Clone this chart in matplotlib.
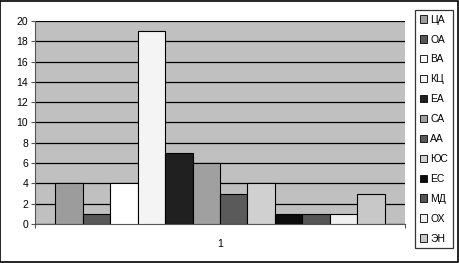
import matplotlib
matplotlib.use("Agg")
import matplotlib.pyplot as plt
from matplotlib.patches import Rectangle, Patch

labels = ["ЦА", "ОА", "ВА", "КЦ", "ЕА", "СА", "АА", "ЮС", "ЕС", "МД", "ОХ", "ЭН"]
values = [4, 1, 4, 19, 7, 6, 3, 4, 1, 1, 1, 3]
colors = ["#9c9c9c", "#585858", "#ffffff", "#f4f4f4", "#202020", "#a0a0a0",
          "#5a5a5a", "#d0d0d0", "#0c0c0c", "#555555", "#f0f0f0", "#c8c8c8"]
yticks = list(range(0, 21, 2))
category = "1"

plt.rcParams["font.family"] = ["Liberation Sans", "DejaVu Sans"]

fig = plt.figure(figsize=(4.59, 2.63), dpi=100)
fig.patch.set_facecolor("white")
fig.patches.append(Rectangle((0.001, 0.002), 0.997, 0.995, transform=fig.transFigure,
                             fill=False, edgecolor="black", linewidth=1.2))

ax = fig.add_axes([35 / 459, 39 / 263, 370 / 459, 203 / 263])
ax.set_facecolor("#c0c0c0")

for i, (v, c) in enumerate(zip(values, colors)):
    ax.bar(i, v, width=1, align="edge", color=c, edgecolor="black", linewidth=0.8, zorder=3)

ax.set_xlim(-0.73, len(values) + 0.73)
ax.set_ylim(0, 20)
ax.set_yticks(yticks)
ax.tick_params(axis="y", labelsize=7.5, length=3, width=0.8, pad=2, color="#555555")
ax.yaxis.grid(True, color="black", linewidth=0.9, zorder=1)
ax.set_axisbelow(True)

ax.set_xticks([-0.73, len(values) + 0.73])
ax.set_xticklabels(["", ""])
ax.tick_params(axis="x", length=3, width=0.8, color="#555555")
ax.text(len(values) / 2, -2.0, category, ha="center", va="center", fontsize=7.5)

for s in ["top", "right"]:
    ax.spines[s].set_visible(False)
ax.spines["left"].set_color("#555555")
ax.spines["bottom"].set_color("#555555")

handles = [Patch(facecolor=c, edgecolor="black", linewidth=0.6) for c in colors]
leg = fig.legend(handles, labels, loc="upper left", bbox_to_anchor=(415 / 459, 1 - 10 / 263),
                 fontsize=7.5, frameon=True, fancybox=False, edgecolor="black",
                 handlelength=0.7, handleheight=0.7, handletextpad=0.3,
                 labelspacing=0.95, borderpad=0.45, borderaxespad=0)
leg.get_frame().set_linewidth(0.9)

fig.savefig("out.png", dpi=100)
